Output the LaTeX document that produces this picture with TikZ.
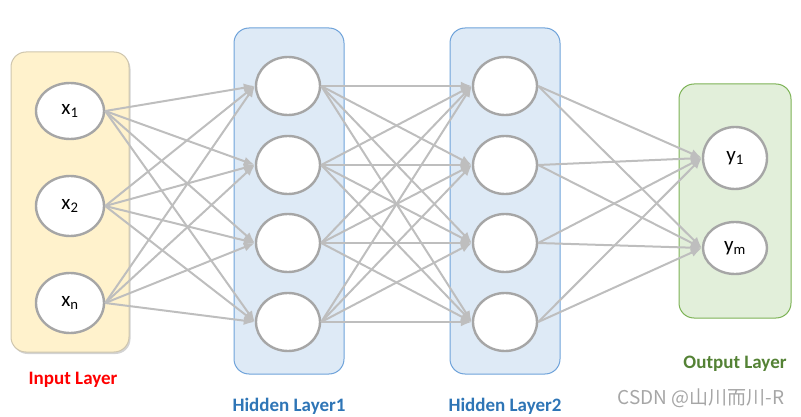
\documentclass[tikz,border=0pt]{standalone}
\usepackage{fontspec}
\setmainfont{Carlito}
\newfontfamily\cjkfont{Noto Sans CJK SC}
\usetikzlibrary{arrows.meta,shadows,shapes.geometric}
\definecolor{edgegray}{HTML}{BEBEBE}
\definecolor{nodegray}{HTML}{A6A6A6}
\definecolor{inputfill}{HTML}{FFF2CC}
\definecolor{inputdraw}{HTML}{CFC6AE}
\definecolor{hidfill}{HTML}{DEEAF6}
\definecolor{hiddraw}{HTML}{6FA3DA}
\definecolor{outfill}{HTML}{E2EFDA}
\definecolor{outdraw}{HTML}{7DB356}
\definecolor{hidtext}{HTML}{2E75B6}
\definecolor{outtext}{HTML}{548235}
\tikzset{
  neuron/.style={ellipse, draw=nodegray, line width=2.4pt, fill=white,
    minimum width=66pt, minimum height=58pt, inner sep=0pt,
    font=\fontsize{21}{21}\selectfont},
  layerbox/.style={rounded corners=15pt, line width=1pt},
  conn/.style={draw=edgegray, line width=2pt,
    -{Latex[length=11pt,width=9pt]}},
  laylabel/.style={font=\fontsize{19}{19}\selectfont\bfseries}
}
\begin{document}
\begin{tikzpicture}[x=1pt,y=-1pt]
\useasboundingbox (0,0) rectangle (801,417);
% layer boxes
\draw[layerbox, fill=inputfill, draw=inputdraw,
  drop shadow={opacity=0.35, shadow xshift=1.5pt, shadow yshift=-2pt, fill=gray}]
  (11,52) rectangle (129,352);
\draw[layerbox, fill=hidfill, draw=hiddraw] (234,28) rectangle (344,374);
\draw[layerbox, fill=hidfill, draw=hiddraw] (450,28) rectangle (560,374);
\draw[layerbox, fill=outfill, draw=outdraw] (679,84) rectangle (791,318);
% neurons
\node[neuron, minimum width=68pt, minimum height=56pt] (x1) at (70,111) {x\textsubscript{1}};
\node[neuron, minimum width=68pt, minimum height=60pt] (x2) at (70,206) {x\textsubscript{2}};
\node[neuron, minimum width=68pt, minimum height=60pt] (xn) at (70,303) {x\textsubscript{n}};
\foreach \i/\y in {1/86,2/165,3/243,4/322}{
  \node[neuron, minimum width=64pt] (a\i) at (288,\y) {};
  \node[neuron, minimum width=64pt] (b\i) at (505,\y) {};
}
\node[neuron, minimum width=64pt, minimum height=62pt] (y1) at (735,158) {y\textsubscript{1}};
\node[neuron, minimum width=64pt, minimum height=52pt] (ym) at (735,248) {y\textsubscript{m}};
% connections
\foreach \s in {x1,x2,xn}{
  \foreach \t in {a1,a2,a3,a4}{
    \draw[conn] (\s.east) -- (\t.west);
  }
}
\foreach \s in {a1,a2,a3,a4}{
  \foreach \t in {b1,b2,b3,b4}{
    \draw[conn] (\s.east) -- (\t.west);
  }
}
\foreach \s in {b1,b2,b3,b4}{
  \foreach \t in {y1,ym}{
    \draw[conn] (\s.east) -- (\t.west);
  }
}
% labels
\node[laylabel, text=red] (lin) at (73,380) {Input Layer};
\node[laylabel, text=hidtext] (lh1) at (289,406) {Hidden Layer1};
\node[laylabel, text=hidtext] (lh2) at (505,406) {Hidden Layer2};
\node[laylabel, text=outtext] (lout) at (735,364) {Output Layer};
\node[font=\cjkfont\fontsize{19}{19}\selectfont, text=gray!70] (wm) at (701,398) {CSDN @山川而川-R};
\end{tikzpicture}
\end{document}
